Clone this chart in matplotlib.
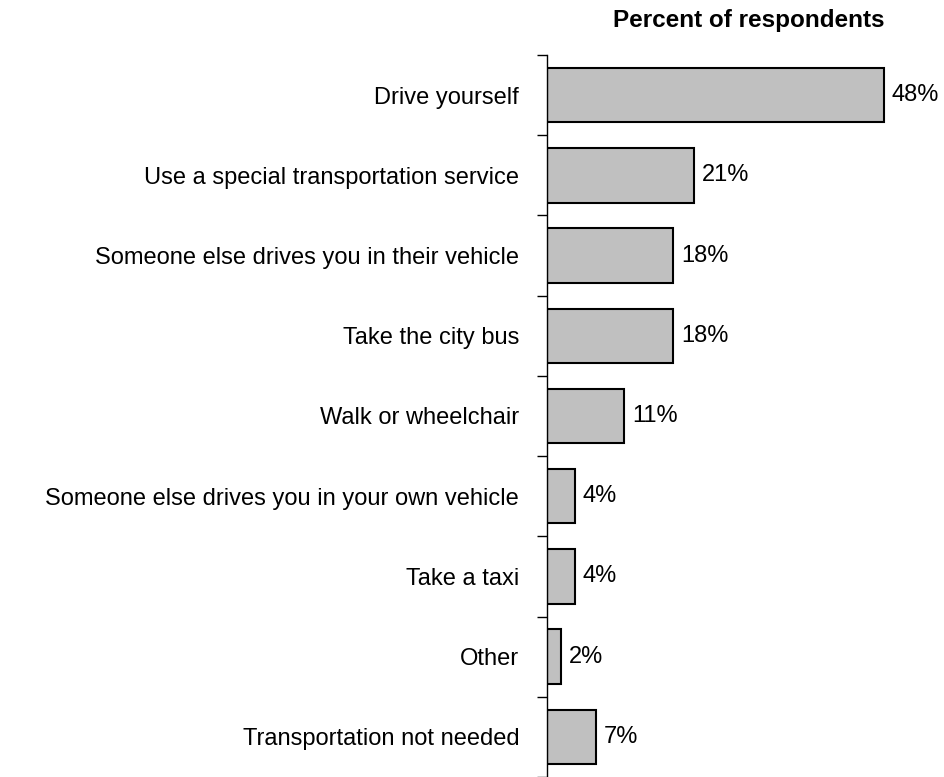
import matplotlib.pyplot as plt
import numpy as np

plt.rcParams['font.family'] = ['Liberation Sans', 'DejaVu Sans']

modes = ['Drive yourself', 'Use a special transportation service',
         'Someone else drives you in their vehicle', 'Take the city bus',
         'Walk or wheelchair', 'Someone else drives you in your own vehicle',
         'Take a taxi', 'Other', 'Transportation not needed']
pct = [48, 21, 18, 18, 11, 4, 4, 2, 7]

fig = plt.figure(figsize=(9.44, 7.77), dpi=100)
ax = fig.add_axes([547 / 944, 0.0, 397 / 944, 1 - 55 / 777])

y = np.arange(len(modes))
ax.barh(y, pct, height=0.68, color='#c0c0c0', edgecolor='black', linewidth=1.5)
for yi, v in zip(y, pct):
    ax.text(v + 1.1, yi, f'{v}%', va='center', ha='left', fontsize=17)

ax.set_ylim(len(modes) - 0.5, -0.5)
ax.set_xlim(0, 397 / 7.02)
ax.set_yticks(y)
ax.set_yticklabels(modes, fontsize=17)
ax.tick_params(axis='y', which='major', length=0, pad=20)
# short ticks between the categories
ax.set_yticks(np.arange(len(modes) + 1) - 0.5, minor=True)
ax.tick_params(axis='y', which='minor', length=7, width=1)
ax.set_xticks([])
for s in ['top', 'right', 'bottom']:
    ax.spines[s].set_visible(False)
ax.spines['left'].set_linewidth(1)

fig.text(749 / 944, 1 - 21 / 777, 'Percent of respondents', ha='center', va='center',
         fontsize=17.5, fontweight='bold')

fig.savefig('out.png', dpi=100)
